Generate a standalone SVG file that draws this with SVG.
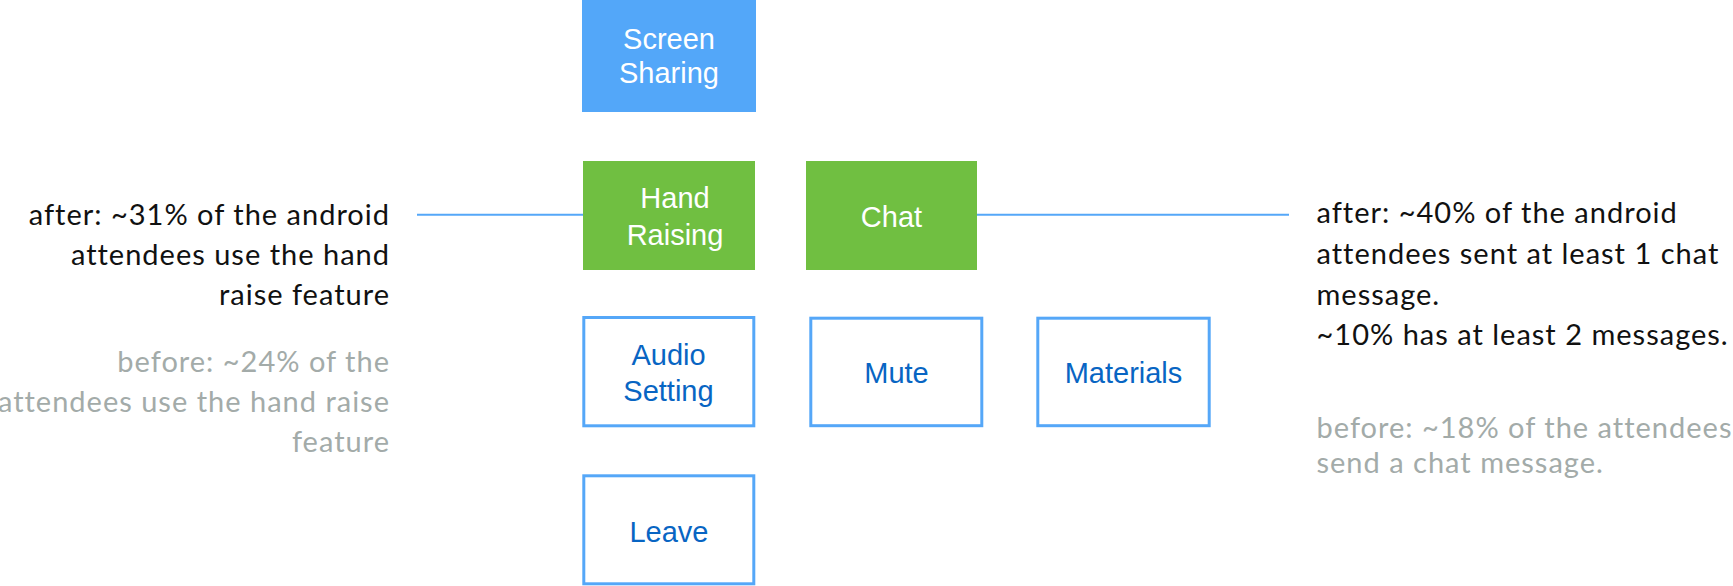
<svg xmlns="http://www.w3.org/2000/svg" width="1733" height="586" viewBox="0 0 1733 586">
<style>
.fillB{fill:#53A7F9}
.fillG{fill:#70BF41}
.out{fill:#ffffff;stroke:#55A7F8;stroke-width:3}
.lw{font-family:"Liberation Sans",Arial,sans-serif;font-size:29px;fill:#ffffff;text-anchor:middle}
.lb{font-family:"Liberation Sans",Arial,sans-serif;font-size:29px;fill:#0865C3;text-anchor:middle}
.ann{font-family:Lato,"Open Sans",sans-serif;font-size:29px;letter-spacing:1px;fill:#111111}
.old{font-family:Lato,"Open Sans",sans-serif;font-size:29px;letter-spacing:1px;fill:#A3ABA9}
.con{stroke:#55A7F8;stroke-width:2;fill:none}
</style>
<rect width="1733" height="586" fill="#ffffff"/>
<g id="connectors">
<line class="con" x1="417" y1="214.7" x2="583" y2="214.7"/>
<line class="con" x1="977" y1="214.7" x2="1289" y2="214.7"/>
</g>
<g id="screen-sharing">
<rect class="fillB" x="582" y="0" width="174" height="112"/>
<text class="lw" x="669" y="49">Screen</text>
<text class="lw" x="669" y="83">Sharing</text>
</g>
<g id="hand-raising">
<rect class="fillG" x="583" y="161" width="172" height="109"/>
<text class="lw" x="675" y="207.5">Hand</text>
<text class="lw" x="675" y="245">Raising</text>
</g>
<g id="chat">
<rect class="fillG" x="806" y="161" width="171" height="109"/>
<text class="lw" x="891.5" y="227">Chat</text>
</g>
<g id="audio-setting">
<rect class="out" x="583.8" y="317.5" width="170" height="108.3"/>
<text class="lb" x="668.5" y="365">Audio</text>
<text class="lb" x="668.5" y="401">Setting</text>
</g>
<g id="mute">
<rect class="out" x="810.8" y="318.2" width="171" height="107.5"/>
<text class="lb" x="896.5" y="383">Mute</text>
</g>
<g id="materials">
<rect class="out" x="1037.8" y="318.2" width="171.4" height="107.5"/>
<text class="lb" x="1123.5" y="383">Materials</text>
</g>
<g id="leave">
<rect class="out" x="583.8" y="475.8" width="170" height="108"/>
<text class="lb" x="669" y="541.5">Leave</text>
</g>
<g id="hand-raising-note" text-anchor="end">
<text class="ann" x="390" y="225">after: ~31% of the android</text>
<text class="ann" x="390" y="265">attendees use the hand</text>
<text class="ann" x="390" y="305">raise feature</text>
<text class="old" x="390" y="371.7">before: ~24% of the</text>
<text class="old" x="390" y="411.7">attendees use the hand raise</text>
<text class="old" x="390" y="451.7">feature</text>
</g>
<g id="chat-note">
<text class="ann" x="1316.5" y="223">after: ~40% of the android</text>
<text class="ann" x="1316.5" y="264">attendees sent at least 1 chat</text>
<text class="ann" x="1316.5" y="304.5">message.</text>
<text class="ann" x="1316.5" y="345">~10% has at least 2 messages.</text>
<text class="old" x="1316.5" y="437.5">before: ~18% of the attendees</text>
<text class="old" x="1316.5" y="473">send a chat message.</text>
</g>
</svg>
